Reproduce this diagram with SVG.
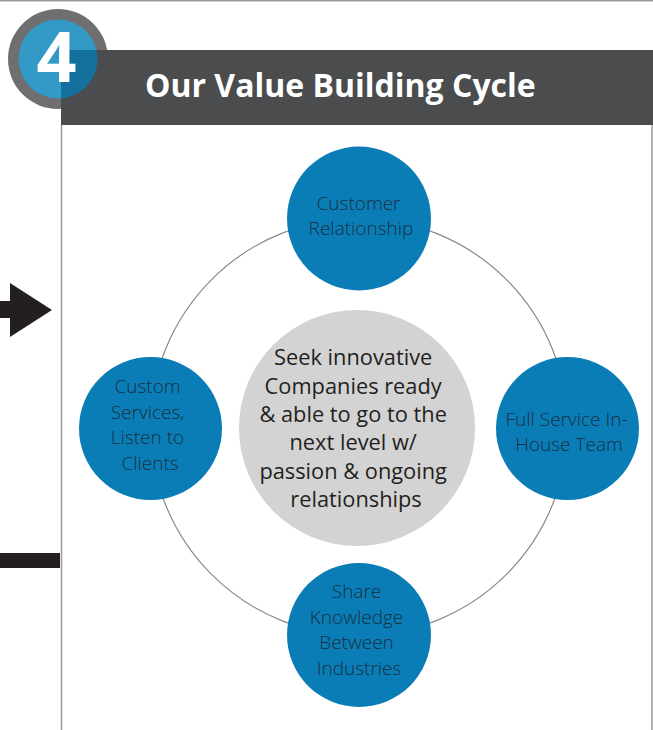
<svg xmlns="http://www.w3.org/2000/svg" width="653" height="730" viewBox="0 0 653 730">
  <style>
    .frame { stroke: #9a9a9a; stroke-width: 1.5; fill: none; }
    .ring { stroke: #8a8a8a; stroke-width: 1.2; fill: none; }
    .node { fill: #0b7db6; }
    .node-label { font-family: "Open Sans", "Liberation Sans", sans-serif; font-weight: 300; font-size: 19px; fill: #172f42; text-anchor: middle; }
    .hub-label { font-family: "Open Sans", "Liberation Sans", sans-serif; font-weight: 400; font-size: 21.8px; fill: #231f20; text-anchor: middle; }
    .title { font-family: "Open Sans", "Liberation Sans", sans-serif; font-weight: 700; font-size: 32px; fill: #ffffff; }
    .badge-num { font-family: "Open Sans", "Liberation Sans", sans-serif; font-weight: 700; font-size: 70px; fill: #ffffff; text-anchor: middle; }
    .ink { fill: #231f20; }
  </style>
  <defs>
    <clipPath id="bar-clip">
      <rect x="61" y="50" width="592" height="75"/>
    </clipPath>
  </defs>

  <rect width="653" height="730" fill="#ffffff"/>

  <!-- page rule along the top edge -->
  <line class="frame" x1="0" y1="0.8" x2="653" y2="0.8"/>

  <!-- panel side borders -->
  <line class="frame" x1="61.5" y1="125" x2="61.5" y2="730"/>
  <line class="frame" x1="652" y1="125" x2="652" y2="730"/>

  <!-- arrow and bar entering from the previous panel -->
  <g id="flow-arrow">
    <rect class="ink" x="0" y="301" width="12" height="17"/>
    <polygon class="ink" points="10,283 52,310 10,337"/>
  </g>
  <rect id="flow-bar" class="ink" x="0" y="553" width="60" height="15"/>

  <!-- step badge and heading -->
  <g id="header">
    <circle cx="58" cy="59" r="50" fill="#6f6f70"/>
    <circle cx="58" cy="59" r="39.5" fill="#3399c7"/>
    <rect x="61" y="50" width="592" height="75" fill="#4b4c4e"/>
    <circle cx="58" cy="59" r="39.5" fill="#14719e" clip-path="url(#bar-clip)"/>
    <text class="badge-num" x="56.5" y="82">4</text>
    <text class="title" x="145" y="97">Our Value Building Cycle</text>
  </g>

  <!-- cycle ring linking the four stages -->
  <g id="connectors">
    <circle class="ring" cx="359" cy="427" r="208.5"/>
  </g>

  <g id="hub">
    <circle cx="357" cy="428" r="118" fill="#d3d3d3"/>
    <text class="hub-label">
      <tspan x="356" y="365">Seek innovative</tspan>
      <tspan x="356" y="393.5">Companies ready</tspan>
      <tspan x="356" y="422">&amp; able to go to the</tspan>
      <tspan x="356" y="450">next level w/</tspan>
      <tspan x="356" y="478.5">passion &amp; ongoing</tspan>
      <tspan x="356" y="507">relationships</tspan>
    </text>
  </g>

  <g id="customer-relationship">
    <circle class="node" cx="359" cy="218.5" r="72"/>
    <text class="node-label">
      <tspan x="361" y="210">Customer</tspan>
      <tspan x="361" y="235">Relationship</tspan>
    </text>
  </g>

  <g id="full-service-team">
    <circle class="node" cx="567.5" cy="428.5" r="71.5"/>
    <text class="node-label">
      <tspan x="569" y="426">Full Service In-</tspan>
      <tspan x="569" y="451">House Team</tspan>
    </text>
  </g>

  <g id="share-knowledge">
    <circle class="node" cx="359" cy="635" r="72"/>
    <text class="node-label">
      <tspan x="359" y="598">Share</tspan>
      <tspan x="359" y="623.5">Knowledge</tspan>
      <tspan x="359" y="649">Between</tspan>
      <tspan x="359" y="674.5">Industries</tspan>
    </text>
  </g>

  <g id="custom-services">
    <circle class="node" cx="150.5" cy="428.5" r="71.5"/>
    <text class="node-label">
      <tspan x="150" y="393">Custom</tspan>
      <tspan x="150" y="418.5">Services,</tspan>
      <tspan x="150" y="444">Listen to</tspan>
      <tspan x="150" y="469.5">Clients</tspan>
    </text>
  </g>
</svg>
